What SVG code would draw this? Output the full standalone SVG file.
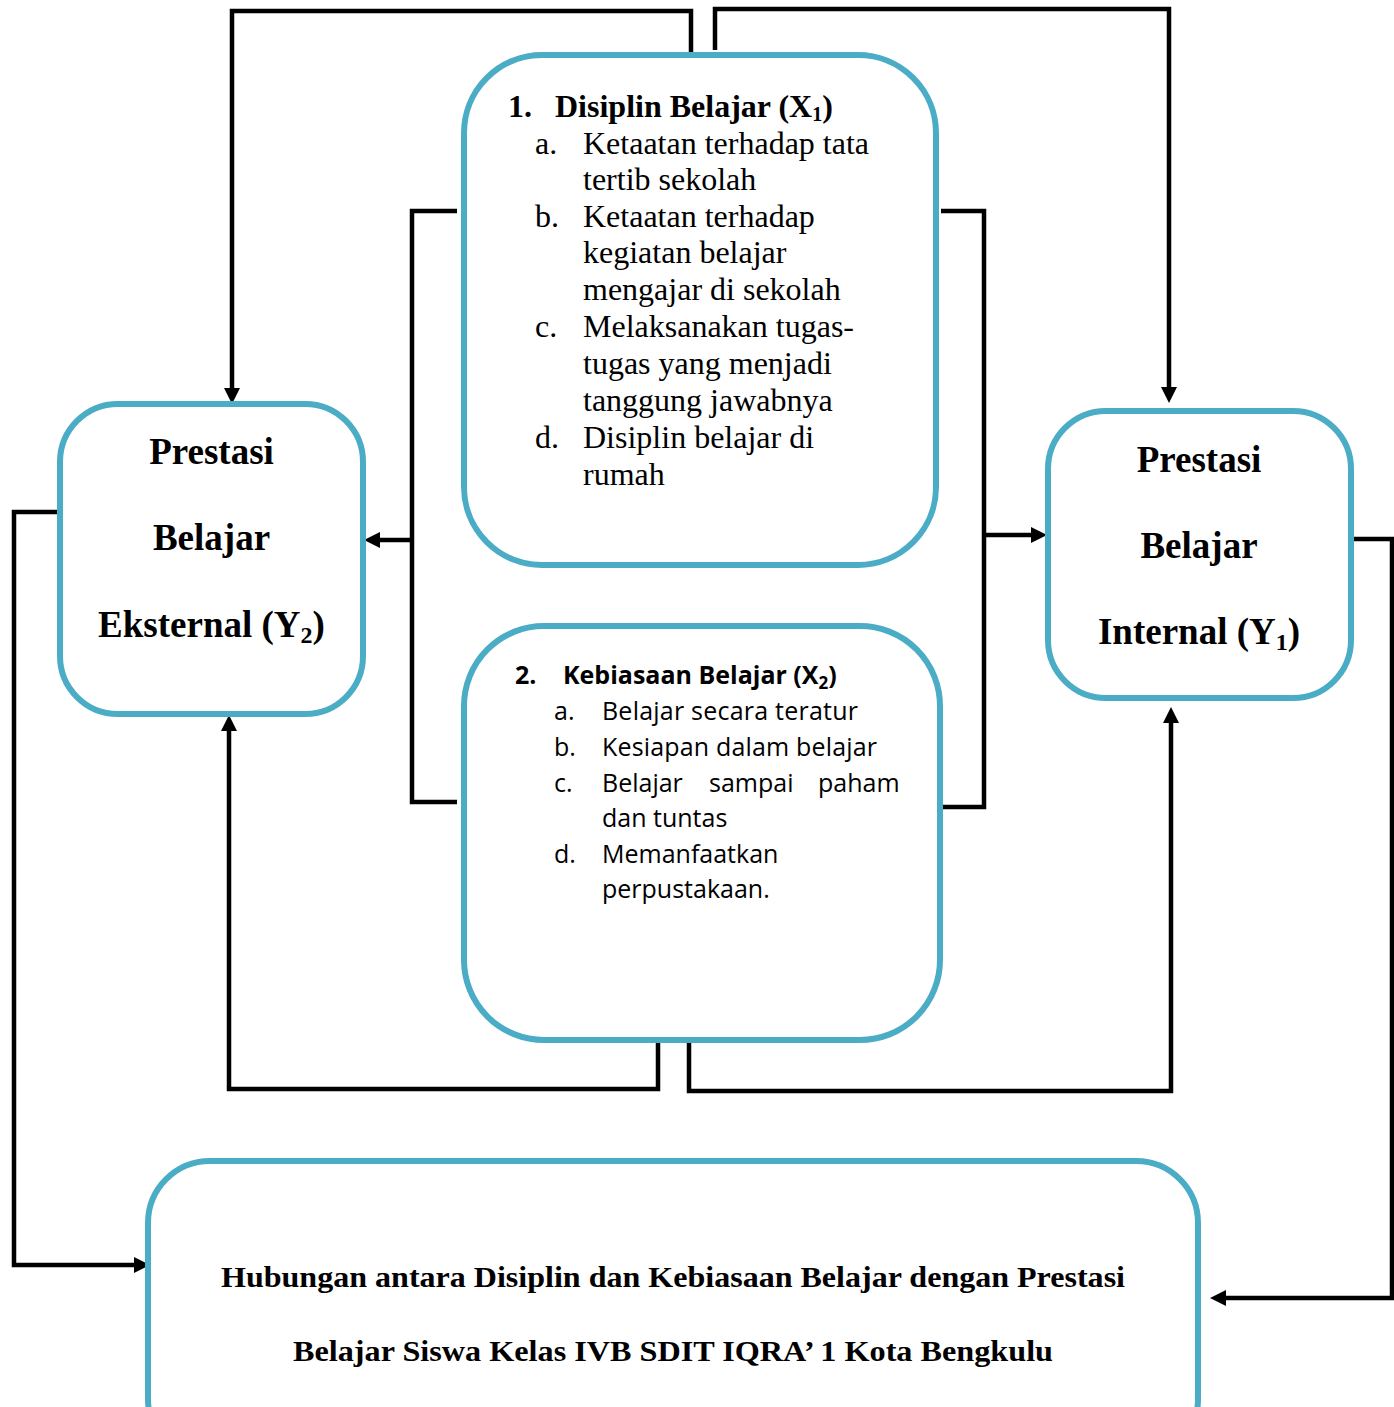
<svg xmlns="http://www.w3.org/2000/svg" width="1394" height="1407" viewBox="0 0 1394 1407">
<style>
.box{fill:#fff;stroke:#4BACC6;stroke-width:6}
.ln{fill:none;stroke:#000;stroke-width:4.5}
.ar{marker-end:url(#ah)}
.tr{font-family:"Liberation Serif","Times New Roman",serif;font-size:32px;fill:#000}
.tb{font-family:"Liberation Serif","Times New Roman",serif;font-weight:bold;fill:#000}
.os{font-family:"Open Sans","Liberation Sans",sans-serif;font-size:25px;fill:#000}
.big{font-size:37px;text-anchor:middle}
</style>
<defs>
<marker id="ah" viewBox="0 0 16 16" refX="2" refY="8" markerWidth="16" markerHeight="16" markerUnits="userSpaceOnUse" orient="auto">
<path d="M0,0 L16,8 L0,16 z" fill="#000"/>
</marker>
</defs>
<rect width="1394" height="1407" fill="#fff"/>
<g id="connectors">
<path class="ln ar" d="M691,52 V11 H232 V390"/>
<path class="ln ar" d="M715,50 V9 H1169 V389"/>
<path class="ln" d="M457,211 H412 V802 H457"/>
<path class="ln ar" d="M412,540 H378"/>
<path class="ln" d="M941,211 H984 V807 H941"/>
<path class="ln ar" d="M984,535 H1033"/>
<path class="ln ar" d="M658,1041 V1089 H229 V729"/>
<path class="ln ar" d="M689,1043 V1091 H1171 V721"/>
<path class="ln ar" d="M59,512 H14 V1265 H136"/>
<path class="ln ar" d="M1351,539 H1392 V1298 H1224"/>
</g>
<g id="node-x1">
<rect class="box" x="464" y="55" width="472" height="510" rx="78" ry="78"/>
<text class="tb" font-size="32" y="117"><tspan x="508">1.</tspan><tspan x="555">Disiplin Belajar (X</tspan><tspan font-size="20" dy="4">1</tspan><tspan dy="-4">)</tspan></text>
<text class="tr" x="535" y="154">a.</text>
<text class="tr" x="583" y="154">Ketaatan terhadap tata</text>
<text class="tr" x="583" y="190">tertib sekolah</text>
<text class="tr" x="535" y="227">b.</text>
<text class="tr" x="583" y="227">Ketaatan terhadap</text>
<text class="tr" x="583" y="263">kegiatan belajar</text>
<text class="tr" x="583" y="300">mengajar di sekolah</text>
<text class="tr" x="535" y="337">c.</text>
<text class="tr" x="583" y="337">Melaksanakan tugas-</text>
<text class="tr" x="583" y="374">tugas yang menjadi</text>
<text class="tr" x="583" y="411">tanggung jawabnya</text>
<text class="tr" x="535" y="448">d.</text>
<text class="tr" x="583" y="448">Disiplin belajar di</text>
<text class="tr" x="583" y="485">rumah</text>
</g>
<g id="node-x2">
<rect class="box" x="464" y="626" width="476" height="414" rx="80" ry="80"/>
<text class="os" font-weight="bold" y="684"><tspan x="515">2.</tspan><tspan x="563">Kebiasaan Belajar (X</tspan><tspan font-size="17" dy="5">2</tspan><tspan dy="-5">)</tspan></text>
<text class="os" x="554" y="720">a.</text>
<text class="os" x="602" y="720" textLength="256">Belajar secara teratur</text>
<text class="os" x="554" y="756">b.</text>
<text class="os" x="602" y="756" textLength="275">Kesiapan dalam belajar</text>
<text class="os" x="554" y="792">c.</text>
<text class="os" y="792"><tspan x="602">Belajar</tspan><tspan x="709">sampai</tspan><tspan x="818">paham</tspan></text>
<text class="os" x="602" y="827">dan tuntas</text>
<text class="os" x="554" y="863">d.</text>
<text class="os" x="602" y="863">Memanfaatkan</text>
<text class="os" x="602" y="898">perpustakaan.</text>
</g>
<g id="node-y2">
<rect class="box" x="60" y="404" width="303" height="310" rx="58" ry="58"/>
<text class="tb big" x="211.5" y="464">Prestasi</text>
<text class="tb big" x="211.5" y="550">Belajar</text>
<text class="tb big" x="211.5" y="637">Eksternal (Y<tspan font-size="24" dy="6">2</tspan><tspan dy="-6">)</tspan></text>
</g>
<g id="node-y1">
<rect class="box" x="1048" y="411" width="303" height="287" rx="58" ry="58"/>
<text class="tb big" x="1199" y="472">Prestasi</text>
<text class="tb big" x="1199" y="558">Belajar</text>
<text class="tb big" x="1199" y="644">Internal (Y<tspan font-size="24" dy="6">1</tspan><tspan dy="-6">)</tspan></text>
</g>
<g id="node-result">
<rect class="box" x="148" y="1161" width="1050" height="300" rx="62" ry="62"/>
<text class="tb" font-size="30" x="221" y="1287" textLength="904" lengthAdjust="spacingAndGlyphs">Hubungan antara Disiplin dan Kebiasaan Belajar dengan Prestasi</text>
<text class="tb" font-size="30" x="293" y="1361" textLength="760" lengthAdjust="spacingAndGlyphs">Belajar Siswa Kelas IVB SDIT IQRA’ 1 Kota Bengkulu</text>
</g>
</svg>
